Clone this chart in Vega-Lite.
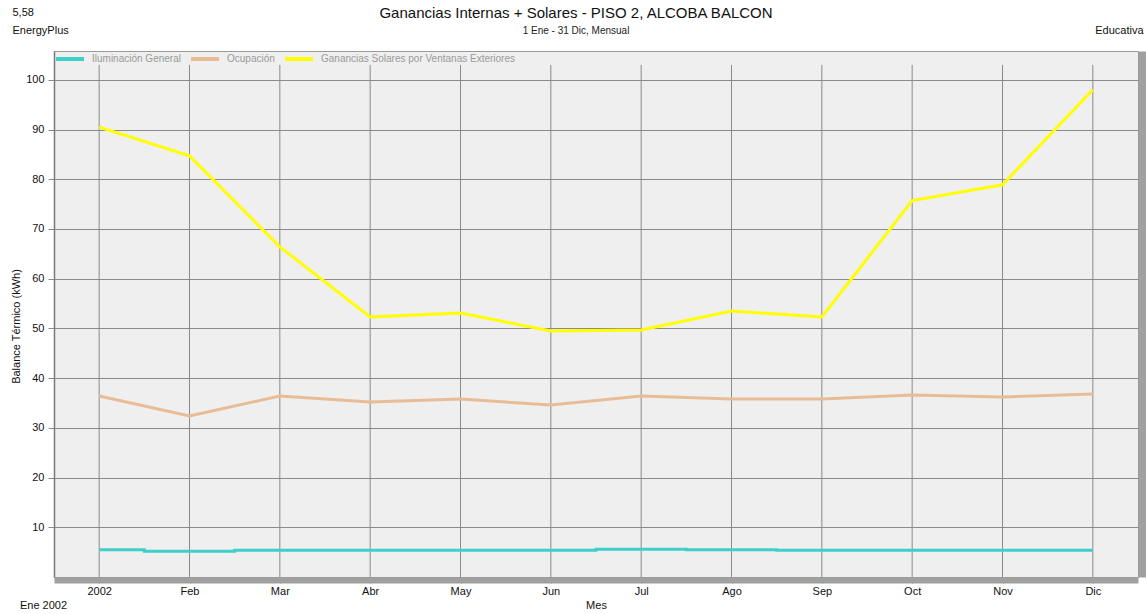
{
  "$schema": "https://vega.github.io/schema/vega-lite/v6.json",
  "width": 1084,
  "height": 526,
  "autosize": {"type": "none"},
  "padding": {"left": 54, "top": 51, "right": 8, "bottom": 37},
  "background": "white",
  "title": {
    "text": "Ganancias Internas + Solares - PISO 2, ALCOBA BALCON",
    "subtitle": "1 Ene - 31 Dic, Mensual",
    "anchor": "middle",
    "dx": -20,
    "offset": -30,
    "font": "Liberation Sans",
    "fontSize": 15,
    "fontWeight": "normal",
    "color": "#111111",
    "subtitleFont": "Liberation Sans",
    "subtitleFontSize": 10,
    "subtitleColor": "#222222",
    "subtitlePadding": 5
  },
  "config": {
    "font": "Liberation Sans",
    "view": {"fill": "#EEEFEE", "stroke": "#9A9A9A", "strokeWidth": 1}
  },
  "data": {
    "values": [
      {"mes": "2002", "serie": "Iluminación General", "valor": 5.5},
      {"mes": "Feb", "serie": "Iluminación General", "valor": 5.2},
      {"mes": "Mar", "serie": "Iluminación General", "valor": 5.4},
      {"mes": "Abr", "serie": "Iluminación General", "valor": 5.4},
      {"mes": "May", "serie": "Iluminación General", "valor": 5.4},
      {"mes": "Jun", "serie": "Iluminación General", "valor": 5.4},
      {"mes": "Jul", "serie": "Iluminación General", "valor": 5.6},
      {"mes": "Ago", "serie": "Iluminación General", "valor": 5.5},
      {"mes": "Sep", "serie": "Iluminación General", "valor": 5.4},
      {"mes": "Oct", "serie": "Iluminación General", "valor": 5.4},
      {"mes": "Nov", "serie": "Iluminación General", "valor": 5.4},
      {"mes": "Dic", "serie": "Iluminación General", "valor": 5.4},
      {"mes": "2002", "serie": "Ocupación", "valor": 36.4},
      {"mes": "Feb", "serie": "Ocupación", "valor": 32.4},
      {"mes": "Mar", "serie": "Ocupación", "valor": 36.4},
      {"mes": "Abr", "serie": "Ocupación", "valor": 35.2},
      {"mes": "May", "serie": "Ocupación", "valor": 35.8},
      {"mes": "Jun", "serie": "Ocupación", "valor": 34.6},
      {"mes": "Jul", "serie": "Ocupación", "valor": 36.4},
      {"mes": "Ago", "serie": "Ocupación", "valor": 35.8},
      {"mes": "Sep", "serie": "Ocupación", "valor": 35.8},
      {"mes": "Oct", "serie": "Ocupación", "valor": 36.6},
      {"mes": "Nov", "serie": "Ocupación", "valor": 36.2},
      {"mes": "Dic", "serie": "Ocupación", "valor": 36.8},
      {"mes": "2002", "serie": "Ganancias Solares por Ventanas Exteriores", "valor": 90.5},
      {"mes": "Feb", "serie": "Ganancias Solares por Ventanas Exteriores", "valor": 84.7},
      {"mes": "Mar", "serie": "Ganancias Solares por Ventanas Exteriores", "valor": 66.4},
      {"mes": "Abr", "serie": "Ganancias Solares por Ventanas Exteriores", "valor": 52.3},
      {"mes": "May", "serie": "Ganancias Solares por Ventanas Exteriores", "valor": 53.1},
      {"mes": "Jun", "serie": "Ganancias Solares por Ventanas Exteriores", "valor": 49.5},
      {"mes": "Jul", "serie": "Ganancias Solares por Ventanas Exteriores", "valor": 49.7},
      {"mes": "Ago", "serie": "Ganancias Solares por Ventanas Exteriores", "valor": 53.5},
      {"mes": "Sep", "serie": "Ganancias Solares por Ventanas Exteriores", "valor": 52.3},
      {"mes": "Oct", "serie": "Ganancias Solares por Ventanas Exteriores", "valor": 75.7},
      {"mes": "Nov", "serie": "Ganancias Solares por Ventanas Exteriores", "valor": 78.9},
      {"mes": "Dic", "serie": "Ganancias Solares por Ventanas Exteriores", "valor": 98.0}
    ]
  },
  "layer": [
    {
      "transform": [{"filter": "datum.serie === 'Ocupación'"}],
      "mark": {"type": "rule", "color": "#8A8A8A", "strokeWidth": 1},
      "encoding": {
        "x": {
          "field": "mes", "type": "ordinal",
          "sort": ["2002", "Feb", "Mar", "Abr", "May", "Jun", "Jul", "Ago", "Sep", "Oct", "Nov", "Dic"],
          "scale": {"type": "point", "padding": 0.5},
          "axis": {
            "orient": "top", "labels": false, "ticks": false, "domain": false, "grid": false,
            "title": ["5,58", "EnergyPlus"],
            "titleAlign": "left", "titleAnchor": null, "titleX": -42, "titleY": -39,
            "titleBaseline": "middle", "titleFontSize": 11, "titleFontWeight": "normal",
            "titleLineHeight": 18, "titleColor": "#111111"
          }
        },
        "y": {
          "datum": 0, "type": "quantitative",
          "scale": {"domain": [0, 105.8], "nice": false, "zero": false},
          "axis": {
            "orient": "right", "labels": false, "ticks": false, "grid": false,
            "domain": true, "domainColor": "#A0A0A0", "domainWidth": 7, "offset": 4,
            "title": "Educativa", "titleAngle": 0, "titleAlign": "right", "titleAnchor": null,
            "titleX": 1, "titleY": -21, "titleBaseline": "middle",
            "titleFontSize": 11, "titleFontWeight": "normal", "titleColor": "#111111"
          }
        },
        "y2": {"datum": 103}
      }
    },
    {
      "transform": [{"filter": "datum.serie === 'Iluminación General'"}],
      "mark": {"type": "line", "interpolate": "step", "strokeWidth": 3},
      "encoding": {
        "x": {
          "field": "mes", "type": "ordinal",
          "sort": ["2002", "Feb", "Mar", "Abr", "May", "Jun", "Jul", "Ago", "Sep", "Oct", "Nov", "Dic"],
          "scale": {"type": "point", "padding": 0.5},
          "axis": {
            "orient": "bottom", "grid": false,
            "domain": true, "domainColor": "#A0A0A0", "domainWidth": 6, "offset": 3,
            "ticks": true, "tickColor": "#8A8A8A", "tickSize": 3,
            "labelPadding": 2, "labelFontSize": 11, "labelColor": "#111111", "labelAngle": 0,
            "title": "Mes", "titleFontSize": 11, "titleFontWeight": "normal",
            "titleColor": "#111111", "titlePadding": 3
          }
        },
        "y": {
          "field": "valor", "type": "quantitative",
          "scale": {"domain": [0, 105.8], "nice": false, "zero": false},
          "axis": {
            "orient": "left",
            "values": [10, 20, 30, 40, 50, 60, 70, 80, 90, 100],
            "grid": true, "gridColor": "#8A8A8A", "gridWidth": 1,
            "domain": true, "domainColor": "#7A7A7A", "domainWidth": 1.5,
            "tickColor": "#8A8A8A", "tickSize": 6,
            "labelPadding": 4, "labelFontSize": 11, "labelColor": "#111111",
            "title": "Balance Térmico (kWh)", "titleFontSize": 11, "titleFontWeight": "normal",
            "titleColor": "#111111", "titleAngle": -90, "titleAlign": "center", "titleAnchor": null,
            "titleX": -38, "titleY": 275, "titleBaseline": "middle"
          }
        },
        "color": {
          "field": "serie", "type": "nominal",
          "scale": {
            "domain": ["Iluminación General", "Ocupación", "Ganancias Solares por Ventanas Exteriores"],
            "range": ["#3FCFCB", "#E9BC98", "#FFFF00"]
          },
          "legend": {
            "orient": "none", "legendX": 0, "legendY": -8, "padding": 0,
            "direction": "horizontal", "title": null,
            "symbolType": "stroke", "symbolSize": 784, "symbolStrokeWidth": 4,
            "labelFontSize": 10, "labelColor": "#9A9A9A", "labelOffset": 6, "labelLimit": 0,
            "columnPadding": 2, "gridAlign": "none"
          }
        }
      }
    },
    {
      "transform": [{"filter": "datum.serie !== 'Iluminación General'"}],
      "mark": {"type": "line", "strokeWidth": 3},
      "encoding": {
        "x": {
          "field": "mes", "type": "ordinal",
          "sort": ["2002", "Feb", "Mar", "Abr", "May", "Jun", "Jul", "Ago", "Sep", "Oct", "Nov", "Dic"],
          "scale": {"type": "point", "padding": 0.5},
          "axis": {
            "orient": "bottom", "labels": false, "ticks": false, "domain": false, "grid": false,
            "title": "Ene 2002", "titleAlign": "center", "titleAnchor": null,
            "titleX": -11, "titleY": 28, "titleBaseline": "middle",
            "titleFontSize": 11, "titleFontWeight": "normal", "titleColor": "#111111"
          }
        },
        "y": {
          "field": "valor", "type": "quantitative",
          "scale": {"domain": [0, 105.8], "nice": false, "zero": false},
          "axis": null
        },
        "color": {
          "field": "serie", "type": "nominal",
          "scale": {
            "domain": ["Iluminación General", "Ocupación", "Ganancias Solares por Ventanas Exteriores"],
            "range": ["#3FCFCB", "#E9BC98", "#FFFF00"]
          },
          "legend": {
            "orient": "none", "legendX": 0, "legendY": -8, "padding": 0,
            "direction": "horizontal", "title": null,
            "symbolType": "stroke", "symbolSize": 784, "symbolStrokeWidth": 4,
            "labelFontSize": 10, "labelColor": "#9A9A9A", "labelOffset": 6, "labelLimit": 0,
            "columnPadding": 2, "gridAlign": "none"
          }
        }
      }
    }
  ],
  "resolve": {"axis": {"x": "independent", "y": "independent"}}
}
